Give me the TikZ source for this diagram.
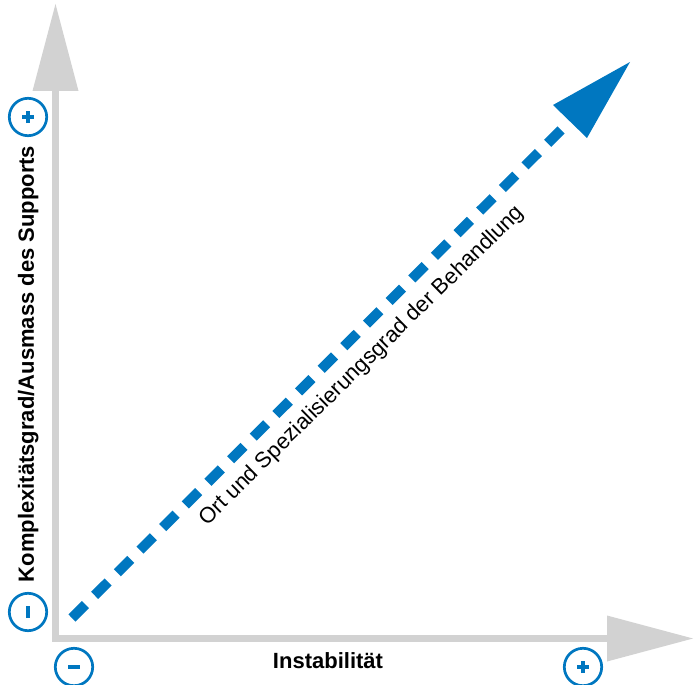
\documentclass[tikz,border=0pt]{standalone}
\usepackage{fontspec}
\setmainfont{Liberation Sans}
\definecolor{axisgray}{RGB}{210,210,210}
\definecolor{signblue}{RGB}{0,119,192}
\begin{document}
\begin{tikzpicture}[x=1pt,y=-1pt,
  axis/.style={draw=axisgray,line width=7pt,line join=miter},
  axishead/.style={fill=axisgray,draw=none},
  sign/.style={circle,draw=signblue,line width=2.7pt,minimum size=37.4pt,inner sep=0pt},
  signbar/.style={draw=signblue,line width=3.4pt},
  lbl/.style={font=\fontsize{22}{26}\selectfont\bfseries,text=black,inner sep=0pt},
  diag/.style={draw=signblue,line width=10pt,dash pattern=on 19pt off 13pt},
  diaglbl/.style={font=\fontsize{22}{26}\selectfont,text=black,inner sep=0pt}]
\useasboundingbox (0,0) rectangle (694,685);
% axes
\coordinate (ytip) at (55.5,4);
\coordinate (yhead) at (55.5,91);
\coordinate (origin) at (55.5,638.5);
\coordinate (xhead) at (607,638.5);
\coordinate (xtip) at (693,638.5);
\draw[axis] (yhead) -- (origin) -- (xhead);
\fill[axishead] (ytip) -- ([xshift=-23pt]yhead) -- ([xshift=23pt]yhead) -- cycle;
\fill[axishead] (xtip) -- ([yshift=-23pt]xhead) -- ([yshift=23pt]xhead) -- cycle;
% signs
\node[sign] (yplus) at (28,117) {};
\node[sign] (yminus) at (28,612) {};
\node[sign] (xminus) at (74,667) {};
\node[sign] (xplus) at (583,667) {};
\draw[signbar] ([xshift=-6pt]yplus.center) -- ([xshift=6pt]yplus.center);
\draw[signbar] ([yshift=-6pt]yplus.center) -- ([yshift=6pt]yplus.center);
\draw[signbar] ([yshift=-6pt]yminus.center) -- ([yshift=6pt]yminus.center);
\draw[signbar] ([xshift=-6pt]xminus.center) -- ([xshift=6pt]xminus.center);
\draw[signbar] ([xshift=-6pt]xplus.center) -- ([xshift=6pt]xplus.center);
\draw[signbar] ([yshift=-6pt]xplus.center) -- ([yshift=6pt]xplus.center);
% labels
\node[lbl,rotate=90,anchor=base] (ylabel) at (34,364) {Komplexitätsgrad/Ausmass des Supports};
\node[lbl,anchor=base] (xlabel) at (328,668) {Instabilität};
% diagonal
\coordinate (dstart) at (72,618);
\coordinate (dend) at (574,117);
\coordinate (dtip) at (630,62);
\draw[diag] (dstart) -- (dend);
\fill[signblue] (dtip) -- (553,105) -- (587,138) -- cycle;
\node[diaglbl,rotate=44.5] (dlabel) at (362,366) {Ort und Spezialisierungsgrad der Behandlung};
\end{tikzpicture}
\end{document}
